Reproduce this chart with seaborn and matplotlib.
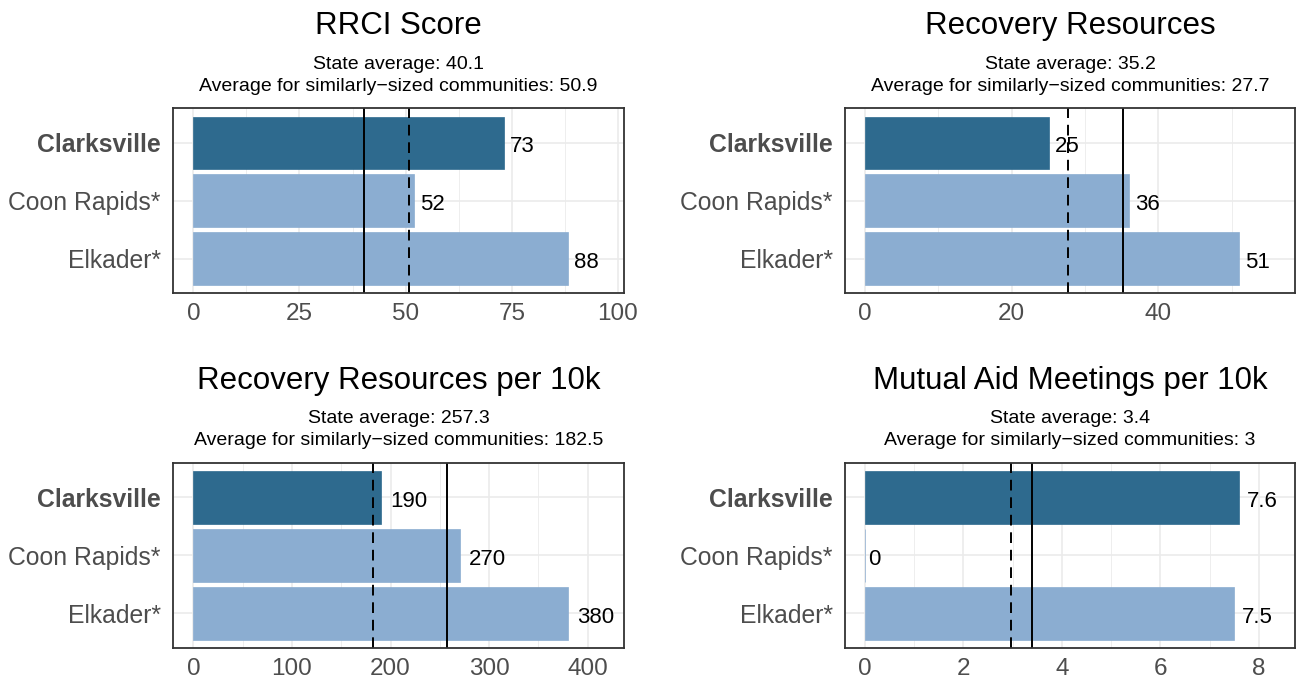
import numpy as np
import pandas as pd
import matplotlib
matplotlib.use("Agg")
import matplotlib.pyplot as plt
import seaborn as sns

# ---------------- data ----------------
categories = ["Clarksville", "Coon Rapids*", "Elkader*"]
titles = ["RRCI Score", "Recovery Resources",
          "Recovery Resources per 10k", "Mutual Aid Meetings per 10k"]

rrci_values = [73.1, 51.9, 88.2]
resources_values = [25.1, 36.0, 51.0]
resources_10k_values = [190.6, 270.0, 379.8]
mutual_aid_values = [7.6, 0.0, 7.5]

rrci_labels = ["73", "52", "88"]
resources_labels = ["25", "36", "51"]
resources_10k_labels = ["190", "270", "380"]
mutual_aid_labels = ["7.6", "0", "7.5"]

state_avg = [40.1, 35.2, 257.3, 3.4]
similar_avg = [50.9, 27.7, 182.5, 2.96]
state_avg_text = ["40.1", "35.2", "257.3", "3.4"]
similar_avg_text = ["50.9", "27.7", "182.5", "3"]

x_ticks = [[0, 25, 50, 75, 100], [0, 20, 40], [0, 100, 200, 300, 400], [0, 2, 4, 6, 8]]

values_list = [rrci_values, resources_values, resources_10k_values, mutual_aid_values]
labels_list = [rrci_labels, resources_labels, resources_10k_labels, mutual_aid_labels]

DARK = "#2E6A8E"
LIGHT = "#8BADD1"
palette = {categories[0]: DARK, categories[1]: LIGHT, categories[2]: LIGHT}

# ---------------- figure ----------------
sns.set_theme(style="white")
plt.rcParams["font.family"] = ["Liberation Sans", "DejaVu Sans"]

W, H = 1297, 681
DPI = 100
fig = plt.figure(figsize=(W / DPI, H / DPI), dpi=DPI)
fig.patch.set_facecolor("white")

# panel boxes in pixels: left, top, right, bottom
boxes = [
    (173.3, 108.3, 624.0, 293.3),
    (845.0, 108.3, 1295.3, 293.3),
    (173.3, 462.7, 624.0, 648.3),
    (845.0, 462.7, 1295.3, 648.3),
]

annots = []
for i in range(4):
    l, t, r, b = boxes[i]
    ax = fig.add_axes([l / W, 1 - b / H, (r - l) / W, (b - t) / H])
    df = pd.DataFrame({"community": categories, "value": values_list[i]})
    sns.barplot(data=df, x="value", y="community", hue="community",
                palette=palette, orient="h", width=0.91, saturation=1,
                legend=False, ax=ax)
    for p in ax.patches:
        p.set_edgecolor(p.get_facecolor())
        p.set_linewidth(0.5)
        p.set_zorder(2)

    ticks = x_ticks[i]
    ax.set_xticks(ticks)
    ax.set_xticklabels([str(v) for v in ticks])
    step = ticks[1] - ticks[0]
    minor = [v + step / 2 for v in ticks]
    ax.set_xticks(minor, minor=True)
    ax.set_yticks(range(len(categories)))
    ax.set_yticklabels(categories)

    vmax = max(values_list[i]) * 1.15
    ax.set_xlim(-0.0465 * vmax, vmax)
    ax.set_ylim(2.6, -0.6)

    ax.set_xlabel("")
    ax.set_ylabel("")

    ax.set_axisbelow(True)
    ax.grid(True, which="major", color="#EBEBEB", lw=1.2, zorder=0)
    ax.grid(True, which="minor", axis="x", color="#EBEBEB", lw=0.6, zorder=0)

    for s in ax.spines.values():
        s.set_visible(True)
        s.set_color("#333333")
        s.set_linewidth(1.3)
        s.set_zorder(5)

    ax.tick_params(axis="both", which="major", length=4.5, width=1.3,
                   color="#333333", direction="out")
    ax.tick_params(axis="both", which="minor", length=0)
    ax.tick_params(axis="x", labelsize=17.5, labelcolor="#4D4D4D", pad=2.5)
    ax.tick_params(axis="y", labelsize=17.8, labelcolor="#4D4D4D", pad=4.5)
    ax.get_yticklabels()[0].set_fontweight("bold")

    ax.axvline(state_avg[i], color="black", lw=1.4, zorder=3)
    ax.axvline(similar_avg[i], color="black", lw=1.4, zorder=3,
               linestyle=(0, (5.5, 3.5)))

    for j, (v, lab) in enumerate(zip(values_list[i], labels_list[i])):
        a = ax.annotate(lab, xy=(v, j), xytext=(0, 0), textcoords="offset points",
                        ha="left", va="center_baseline", fontsize=16,
                        color="black", zorder=4)
        annots.append(a)

    cx = (l + r) / 2
    fig.text(cx / W, 1 - (t - 74.0) / H, titles[i], ha="center",
             va="baseline", fontsize=22.5, color="black")
    fig.text(cx / W, 1 - (t - 39.3) / H, "State average: " + state_avg_text[i],
             ha="center", va="baseline", fontsize=14, color="black")
    fig.text(cx / W, 1 - (t - 17.6) / H,
             "Average for similarly\u2212sized communities: " + similar_avg_text[i],
             ha="center", va="baseline", fontsize=14, color="black")

# offset value labels by a quarter of their width (ggplot hjust ~ -0.25)
fig.canvas.draw()
renderer = fig.canvas.get_renderer()
for a in annots:
    w = a.get_window_extent(renderer).width
    a.xyann = (0.25 * w * 72 / DPI, -1.0)

fig.savefig("out.png", dpi=DPI, facecolor="white")
